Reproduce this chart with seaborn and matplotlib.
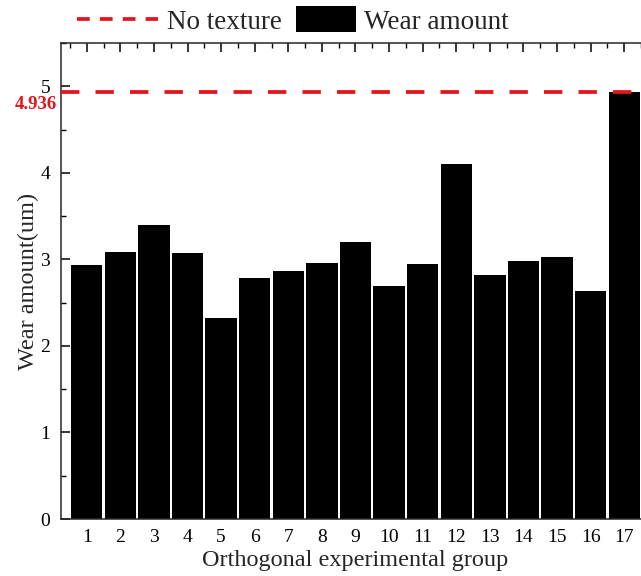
import numpy as np
import pandas as pd
import matplotlib
matplotlib.use("Agg")
import matplotlib.pyplot as plt
import matplotlib.transforms as mtransforms
import seaborn as sns
from matplotlib.lines import Line2D
from matplotlib.patches import Patch, Rectangle
from matplotlib.legend_handler import HandlerLine2D, HandlerPatch
from matplotlib.ticker import FixedLocator, MultipleLocator

# ---------------- data ----------------
groups = [str(i) for i in range(1, 18)]
wear = [2.94, 3.08, 3.40, 3.07, 2.32, 2.79, 2.87, 2.96, 3.20, 2.69,
        2.95, 4.10, 2.82, 2.98, 3.03, 2.63, 4.936]
no_texture = 4.936
legend_labels = ["No texture", "Wear amount"]
x_label = "Orthogonal experimental group"
y_label = "Wear amount(um)"

RED = "#e3141c"

sns.set_style("ticks")
plt.rcParams["font.family"] = ["Liberation Serif", "DejaVu Serif"]
plt.rcParams["axes.linewidth"] = 1.1
plt.rcParams["xtick.color"] = "black"
plt.rcParams["ytick.color"] = "black"

W, H = 641, 576
fig = plt.figure(figsize=(W / 100, H / 100), dpi=100)
ax = fig.add_axes([60.7 / W, 57 / H, 589.6 / W, 476 / H])

df = pd.DataFrame({"group": groups, "wear": wear})
sns.barplot(data=df, x="group", y="wear", order=groups, color="black",
            saturation=1, width=0.94, linewidth=0, ax=ax, errorbar=None)

ax.axhline(no_texture, color=RED, lw=2.7, dashes=(4.9, 4.3), zorder=3)

ax.set_xlim(-0.774, 16.774)
ax.set_ylim(0, 5.5)

# ticks
ax.xaxis.set_minor_locator(FixedLocator(np.arange(-0.5, 17, 1)))
ax.tick_params(axis="x", which="both", bottom=False, top=True,
               direction="in", labelbottom=True, labeltop=False,
               pad=7.0, labelsize=14)
ax.tick_params(axis="x", which="major", length=6.5, width=1.1)
ax.tick_params(axis="x", which="minor", length=3.5, width=1.0)

ax.yaxis.set_major_locator(MultipleLocator(1))
ax.yaxis.set_minor_locator(MultipleLocator(0.5))
ax.tick_params(axis="y", which="both", left=True, right=False,
               direction="in", pad=7.5, labelsize=14)
ax.tick_params(axis="y", which="major", length=6.5, width=1.1)
ax.tick_params(axis="y", which="minor", length=3.5, width=1.0)

ax.set_xlabel(x_label, fontsize=17.5, va="top")
ax.set_ylabel(y_label, fontsize=17.5)
ax.xaxis.set_label_coords(0.5, -(550 - 519) / 476)
ax.yaxis.set_label_coords(-0.036, 0.5)

# threshold annotation
trans = mtransforms.blended_transform_factory(ax.transAxes, ax.transData)
ax.annotate(f"{no_texture:.3f}", xy=(0, no_texture), xycoords=trans,
            xytext=(-2.5, -9.0), textcoords="offset points",
            ha="right", va="center", fontsize=13.5, fontweight="bold",
            color=RED, annotation_clip=False)


# legend
class LongLine(HandlerLine2D):
    def create_artists(self, legend, orig_handle, xdescent, ydescent,
                       width, height, fontsize, trans):
        y = height / 2 - ydescent
        line = Line2D([-xdescent - 15.8, width - xdescent], [y, y])
        self.update_prop(line, orig_handle, legend)
        line.set_transform(trans)
        return [line]


def box_func(legend, orig_handle, xdescent, ydescent, width, height, fontsize):
    return Rectangle((-xdescent, -ydescent), width, height)


line_proxy = Line2D([], [], color=RED, lw=2.7, dashes=(3.4, 2.7))
bar_proxy = Patch(facecolor="black", edgecolor="none")
fig.legend([line_proxy, bar_proxy], legend_labels,
           handler_map={line_proxy: LongLine(),
                        bar_proxy: HandlerPatch(patch_func=box_func)},
           loc="center left", bbox_to_anchor=(98.5 / W, 1 - 20.5 / H),
           ncol=2, frameon=False, fontsize=19.5,
           handlelength=2.21, handleheight=1.1, handletextpad=0.31,
           columnspacing=0.52, borderpad=0, borderaxespad=0)

fig.savefig("out.png", dpi=100)
